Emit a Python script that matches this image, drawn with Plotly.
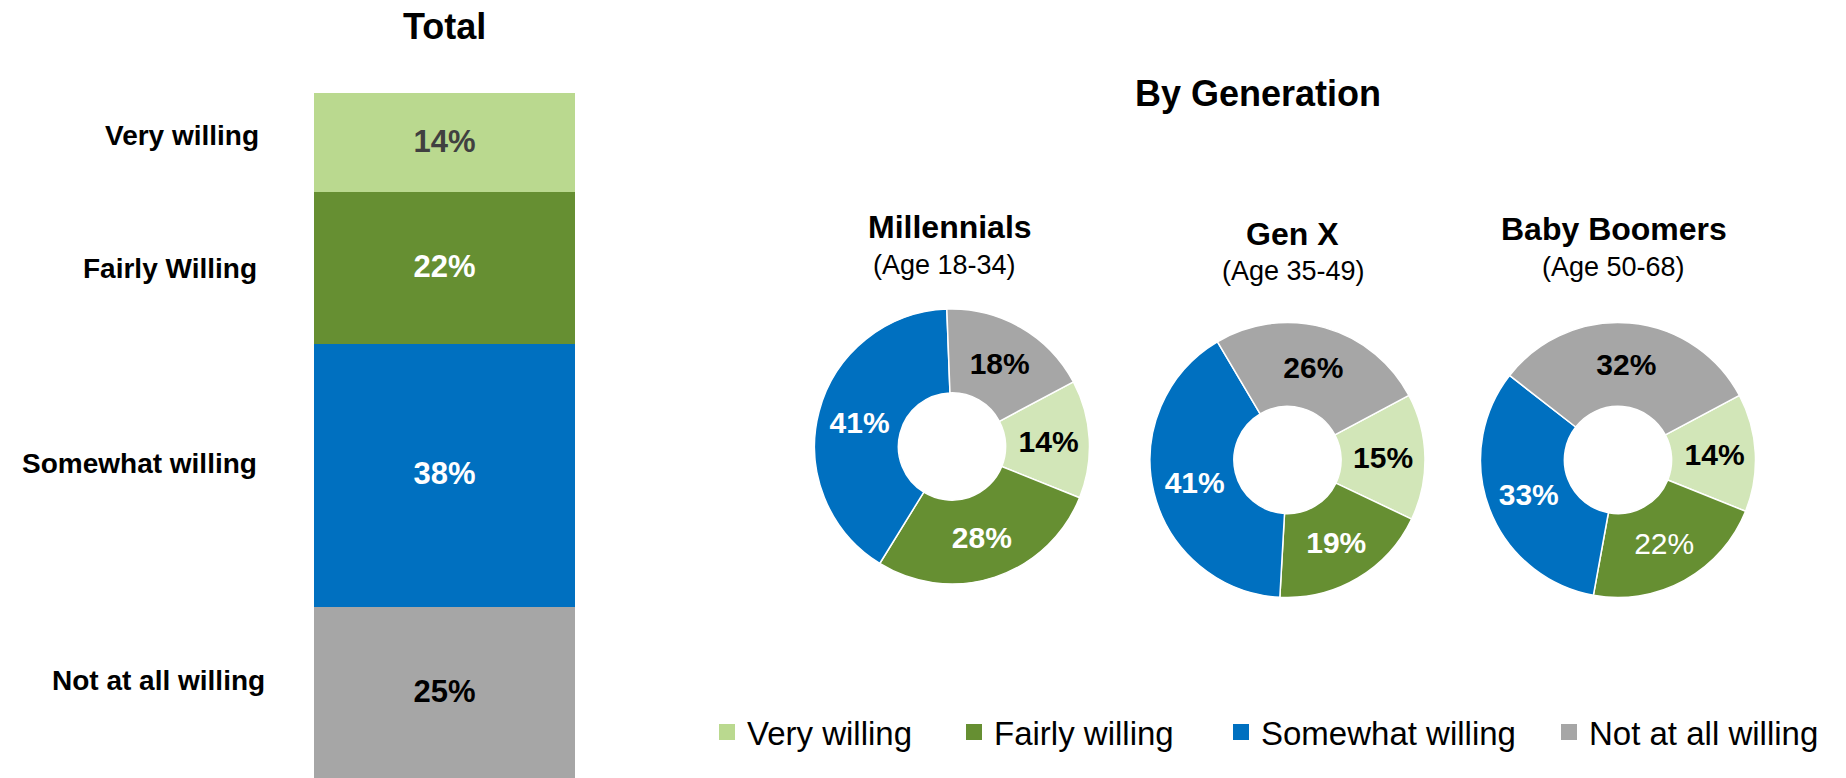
import plotly.graph_objects as go

W, H = 1846, 778
FONT = "Arial, Liberation Sans, sans-serif"

# ---------------- data ----------------
categories = ["Very willing", "Fairly willing", "Somewhat willing", "Not at all willing"]
bar_labels = ["Very willing", "Fairly Willing", "Somewhat willing", "Not at all willing"]
total_values = [14, 22, 38, 25]

generations = ["Millennials", "Gen X", "Baby Boomers"]
age_ranges = ["(Age 18-34)", "(Age 35-49)", "(Age 50-68)"]
millennials = [14, 28, 41, 18]
gen_x = [15, 19, 41, 26]
baby_boomers = [14, 22, 33, 32]
generation_values = [millennials, gen_x, baby_boomers]

# ---------------- styles ----------------
bar_colors = ["#BAD98F", "#668F32", "#0070C0", "#A6A6A6"]
pie_colors = ["#D2E6B8", "#668F32", "#0070C0", "#A6A6A6"]
bar_text_colors = ["#404040", "white", "white", "black"]
pie_text_colors = ["black", "white", "white", "black"]
regular_weight = {("Baby Boomers", "Fairly willing")}
BAR_LINE = 4  # outline in the fill colour (also enlarges the legend squares)


def px(x):
    return x / W


def py(y):
    return 1 - y / H


fig = go.Figure()

# stacked bar: first trace at the bottom
legend_ids = ["legend", "legend2", "legend3", "legend4"]
for i in reversed(range(len(categories))):
    fig.add_trace(go.Bar(
        x=["Total"], y=[total_values[i]], name=categories[i],
        marker=dict(color=bar_colors[i], line=dict(width=BAR_LINE, color=bar_colors[i])),
        text=[f"<b>{total_values[i]}%</b>"], textposition="inside",
        insidetextanchor="middle", textangle=0,
        textfont=dict(size=31, color=bar_text_colors[i], family=FONT),
        legend=legend_ids[i], hoverinfo="name+y",
    ))

# donuts
pie_centers = [(952, 446.5), (1287.5, 460), (1618, 460)]
R = 137.5
for g, vals, (cx, cy) in zip(generations, generation_values, pie_centers):
    texts = []
    for c, v in zip(categories, vals):
        texts.append(f"{v}%" if (g, c) in regular_weight else f"<b>{v}%</b>")
    fig.add_trace(go.Pie(
        values=vals, labels=categories, text=texts, textinfo="text",
        textposition="inside", insidetextorientation="horizontal",
        textfont=dict(size=30, color=pie_text_colors, family=FONT),
        marker=dict(colors=pie_colors, line=dict(color="white", width=1.5)),
        hole=0.39, sort=False, direction="clockwise", rotation=62,
        showlegend=False, name=g,
        domain=dict(x=[px(cx - R), px(cx + R)], y=[py(cy + R), py(cy - R)]),
    ))

annotations = []
annotations.append(dict(text="<b>Total</b>", x=px(444), y=py(27), font=dict(size=36)))
annotations.append(dict(text="<b>By Generation</b>", x=px(1258), y=py(93), font=dict(size=36)))
title_pos = [(950, 227, 945, 264.5), (1292, 233.5, 1293, 271), (1614, 229, 1613.5, 266.5)]
for g, a, (tx, ty, ax, ay) in zip(generations, age_ranges, title_pos):
    annotations.append(dict(text=f"<b>{g}</b>", x=px(tx), y=py(ty), font=dict(size=32)))
    annotations.append(dict(text=a, x=px(ax), y=py(ay), font=dict(size=27)))

label_pos = [(261, 136), (259, 268), (259, 463), (267, 680)]
for lab, (lx, ly) in zip(bar_labels, label_pos):
    annotations.append(dict(text=f"<b>{lab}</b>", x=px(lx), y=py(ly), xanchor="right",
                            font=dict(size=28)))

for a in annotations:
    a.setdefault("xanchor", "center")
    a.update(xref="paper", yref="paper", yanchor="middle", showarrow=False)
    a["font"].update(family=FONT, color="black")

legend_text_start = [747, 994, 1261, 1589]
legend_layouts = {}
for lid, ts in zip(legend_ids, legend_text_start):
    legend_layouts[lid] = dict(
        x=px(ts - 40), y=py(732), xanchor="left", yanchor="middle",
        orientation="h", bgcolor="rgba(0,0,0,0)", borderwidth=0,
        font=dict(size=33, family=FONT, color="black"),
    )

fig.update_layout(
    width=W, height=H, autosize=False,
    margin=dict(l=0, r=0, t=0, b=0),
    paper_bgcolor="white", plot_bgcolor="white",
    barmode="stack", bargap=0,
    xaxis=dict(domain=[px(314), px(575)], visible=False,
               range=[-0.5, 0.5], fixedrange=True),
    yaxis=dict(domain=[0, py(93)], visible=False,
               range=[0, sum(total_values)], fixedrange=True),
    annotations=annotations,
    showlegend=True,
    **legend_layouts,
)

fig.write_html(
    "out.html",
    config={"displayModeBar": False},
    post_script="document.body.style.margin='0';document.documentElement.style.overflow='hidden';",
)
